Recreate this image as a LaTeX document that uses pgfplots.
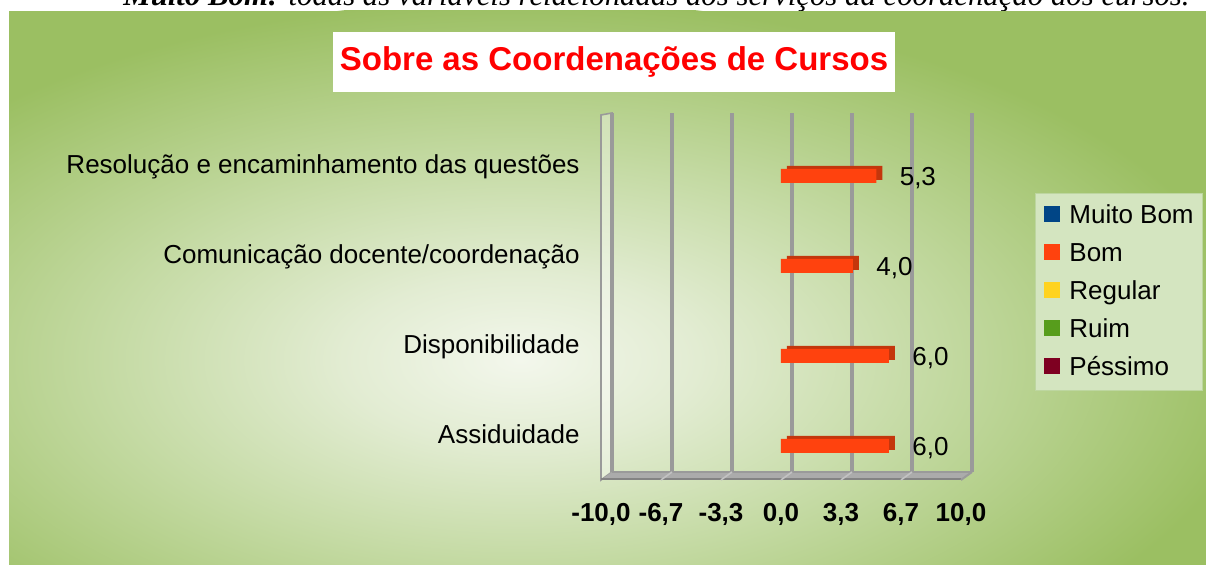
\documentclass[border=0pt]{standalone}
\usepackage{fontspec}
\setmainfont{Liberation Sans}
\newfontfamily\docserif{Liberation Serif}
\usepackage{pgfplots}
\pgfplotsset{compat=1.18}

\definecolor{bgouter}{HTML}{9BBF62}
\definecolor{bgc0}{HTML}{F3F7EC}
\definecolor{bgc1}{HTML}{E2ECD2}
\definecolor{bgc2}{HTML}{C4DAA3}
\definecolor{titlered}{HTML}{FF0000}
\definecolor{gridcol}{HTML}{9A9A9A}
\definecolor{floorcol}{HTML}{ABABAB}
\definecolor{legbg}{HTML}{D4E5C0}
\definecolor{legdraw}{HTML}{BDD6A0}
\definecolor{muitobom}{HTML}{004586}
\definecolor{bom}{HTML}{FF420E}
\definecolor{bomside}{HTML}{C4360C}
\definecolor{regular}{HTML}{FFD320}
\definecolor{ruim}{HTML}{579D1C}
\definecolor{pessimo}{HTML}{7E0021}

\pgfdeclareradialshading{bgshade}{\pgfpoint{0bp}{0bp}}{color(0bp)=(bgc0); color(6bp)=(bgc1); color(14bp)=(bgc2); color(25bp)=(bgouter); color(50bp)=(bgouter)}

\pgfplotsset{sq/.style={legend image code/.code={\fill[##1] (0pt,0.5pt) rectangle (8pt,8.5pt);}}}

\begin{document}
\begin{tikzpicture}
% background, in px of the reference (1px = 0.5pt, y down)
\begin{scope}[shift={(0pt,282.5pt)}, x=0.5pt, y=-0.5pt]
  \fill[white] (0,0) rectangle (1206,565);
  \fill[bgouter] (9,11) rectangle (1206,565);
  \begin{scope}
    \clip (9,11) rectangle (1206,565);
    \shade[shading=bgshade] (520,360) ellipse (740 and 360);
  \end{scope}
  \fill[white] (333,32) rectangle (895,92);
  \node[text=titlered, font=\bfseries\fontsize{16.5}{20}\selectfont] at (614,62) {Sobre as Coordenações de Cursos};
  \begin{scope}
    \clip (0,0) rectangle (1206,11);
    \node[overlay, anchor=base west, inner sep=0pt, font=\docserif\itshape\fontsize{15.4}{18}\selectfont] at (123,6)
      {\textbf{Muito Bom:} todas as variáveis relacionadas aos serviços da coordenação dos cursos.};
  \end{scope}
\end{scope}

\begin{axis}[
  at={(300.5pt,42.5pt)}, anchor=south west,
  scale only axis, width=180pt, height=182.5pt,
  xmin=-10, xmax=10, ymin=-0.3778, ymax=3.6778,
  clip=false,
  axis line style={draw=none}, major tick length=0pt,
  xtick={-10,-6.6667,-3.3333,0,3.3333,6.6667,10},
  xticklabels={{-10,0},{-6,7},{-3,3},{0,0},{3,3},{6,7},{10,0}},
  xticklabel style={font=\bfseries\fontsize{13}{15}\selectfont, anchor=base, inner sep=0pt, yshift=-21pt},
  ytick={0,1,2,3},
  yticklabels={Assiduidade,Disponibilidade,Comunicação docente/coordenação,Resolução e encaminhamento das questões},
  yticklabel style={font=\fontsize{13}{15}\selectfont, anchor=base east, inner sep=0pt, xshift=-10.5pt, yshift=1.25pt},
  legend style={at={(1.2056,0.7863)}, anchor=north west, fill=legbg, draw=legdraw,
    inner xsep=4.5pt, inner ysep=5pt, row sep=6.5pt,
    font=\fontsize{13}{15}\selectfont,
    nodes={inner sep=0pt, text height=10pt, text depth=2.5pt, anchor=base west},
    /tikz/every odd column/.append style={column sep=4.5pt}},
  legend cell align=left,
]
% left wall
\filldraw[fill=white, fill opacity=0.35, draw=gridcol, line width=0.8pt]
  (axis cs:-10,-0.3778) -- (axis cs:-10,3.6778) -- ([shift={(5.5pt,1pt)}]axis cs:-10,3.6778)
  -- ([shift={(5.5pt,4pt)}]axis cs:-10,-0.3778) -- cycle;
% back wall grid
\pgfplotsinvokeforeach{-10,-6.6667,-3.3333,0,3.3333,6.6667,10}{
  \draw[gridcol, line width=1.6pt] ([shift={(5.5pt,4pt)}]axis cs:#1,-0.3778) -- ([shift={(5.5pt,1pt)}]axis cs:#1,3.6778);
}
% floor
\fill[floorcol] (axis cs:-10,-0.3778) -- (axis cs:10,-0.3778) -- ([shift={(5.5pt,4pt)}]axis cs:10,-0.3778)
  -- ([shift={(5.5pt,4pt)}]axis cs:-10,-0.3778) -- cycle;
\draw[gridcol!85!black, line width=1.2pt] ([yshift=0.6pt]axis cs:-10,-0.3778) -- ([yshift=0.6pt]axis cs:10,-0.3778);
\draw[gridcol, line width=1.2pt] ([shift={(5.5pt,4pt)}]axis cs:-10,-0.3778) -- ([shift={(5.5pt,4pt)}]axis cs:10,-0.3778);
\pgfplotsinvokeforeach{-6.6667,-3.3333,0,3.3333,6.6667}{
  \draw[gridcol!60, line width=0.8pt] (axis cs:#1,-0.3778) -- ([shift={(5.5pt,4pt)}]axis cs:#1,-0.3778);
}
\draw[gridcol, line width=1pt] (axis cs:10,-0.3778) -- ([shift={(5.5pt,4pt)}]axis cs:10,-0.3778);

\addlegendimage{sq, fill=muitobom, draw=none}
\addlegendentry{Muito Bom}
% depth of the bars
\addplot[xbar, bar width=7pt, fill=bomside, draw=none, forget plot, xshift=3pt, yshift=1.5pt]
  coordinates {(6.0,0) (6.0,1) (4.0,2) (5.3,3)};
\addplot[xbar, bar width=7pt, fill=bom, draw=none, sq,
  point meta=x,
  nodes near coords={\pgfmathprintnumber[fixed,fixed zerofill,precision=1,use comma,assume math mode=true]{\pgfplotspointmeta}},
  every node near coord/.append style={font=\fontsize{13}{15}\selectfont, text=black, anchor=west, inner sep=0pt, xshift=11.5pt, yshift=-1pt}]
  coordinates {(6.0,0) (6.0,1) (4.0,2) (5.3,3)};
\addlegendentry{Bom}
\addlegendimage{sq, fill=regular, draw=none}
\addlegendentry{Regular}
\addlegendimage{sq, fill=ruim, draw=none}
\addlegendentry{Ruim}
\addlegendimage{sq, fill=pessimo, draw=none}
\addlegendentry{Péssimo}
\end{axis}
\end{tikzpicture}
\end{document}
